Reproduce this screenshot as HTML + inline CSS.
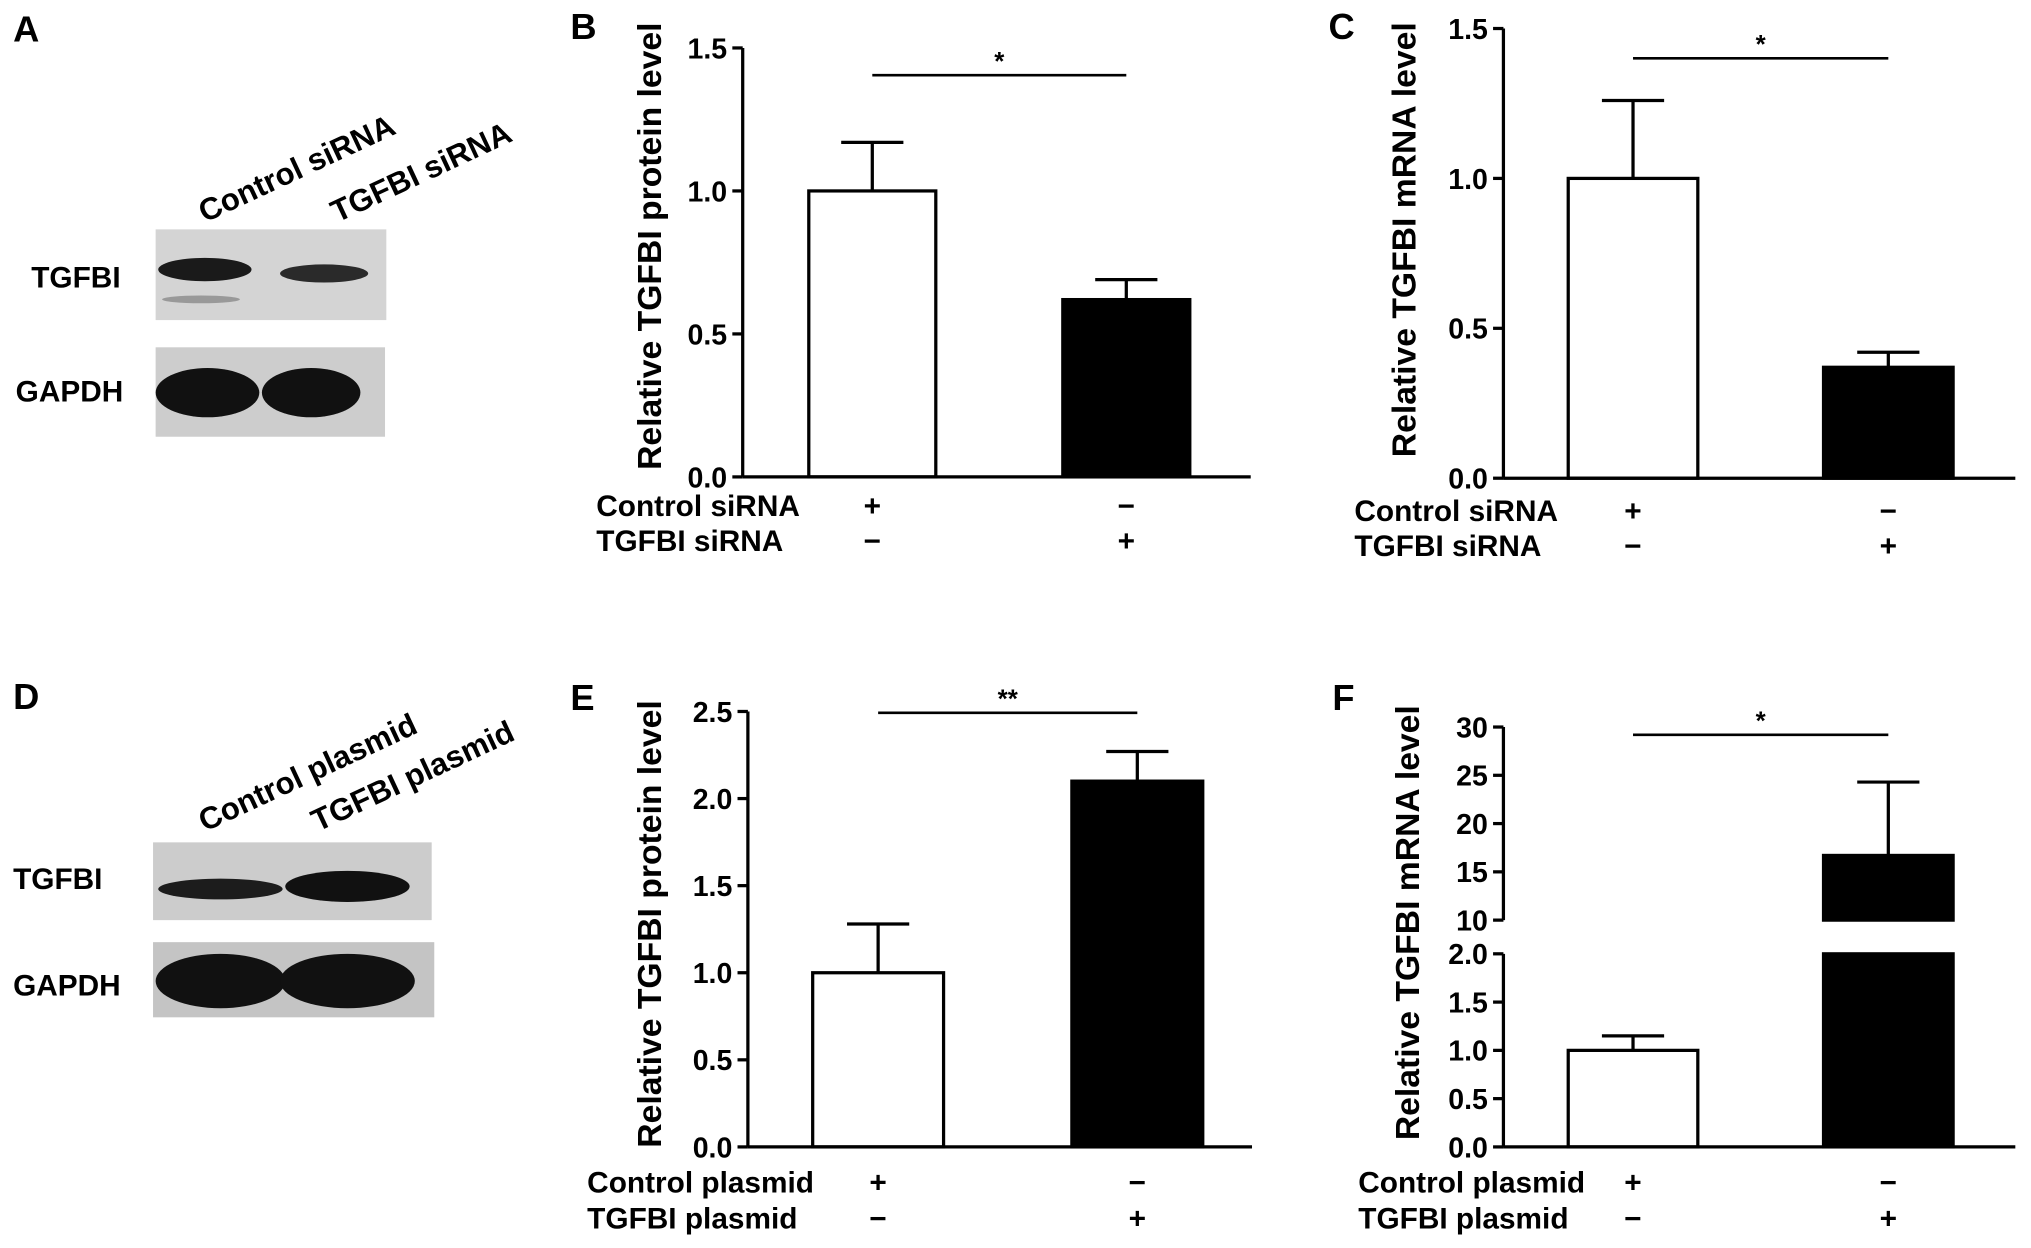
<!DOCTYPE html>
<html><head><meta charset="utf-8"><style>
html,body{margin:0;padding:0;background:#fff}
svg{display:block;font-family:"Liberation Sans",Arial,sans-serif;font-weight:bold}
</style></head><body>
<svg id="fig" width="2031" height="1248" viewBox="0 0 1567 963" xmlns="http://www.w3.org/2000/svg">
<rect width="1567" height="963" fill="#fff"/>
<g>
<text x="10" y="32" font-size="28">A</text>
<text transform="translate(158,172) rotate(-25)" font-size="24">Control siRNA</text>
<text transform="translate(260,172) rotate(-25)" font-size="24">TGFBI siRNA</text>
<text x="24" y="222" font-size="23">TGFBI</text>
<text x="12" y="310" font-size="23">GAPDH</text>
<rect x="120" y="177" width="178" height="70" fill="#d4d4d4"/>
<ellipse cx="158" cy="208" rx="36" ry="9" fill="#1a1a1a"/><ellipse cx="250" cy="211" rx="34" ry="7" fill="#2a2a2a"/>
<ellipse cx="155" cy="231" rx="30" ry="3" fill="#999"/>
<rect x="120" y="268" width="177" height="69" fill="#cdcdcd"/>
<ellipse cx="160" cy="303" rx="40" ry="19" fill="#111"/><ellipse cx="240" cy="303" rx="38" ry="19" fill="#111"/>
</g>
<g>
<text x="10" y="547" font-size="28">D</text>
<text transform="translate(158,642) rotate(-25)" font-size="24">Control plasmid</text>
<text transform="translate(245,642) rotate(-25)" font-size="24">TGFBI plasmid</text>
<text x="10" y="686" font-size="23">TGFBI</text>
<text x="10" y="768" font-size="23">GAPDH</text>
<rect x="118" y="650" width="215" height="60" fill="#cccccc"/>
<ellipse cx="170" cy="686" rx="48" ry="8" fill="#1c1c1c"/><ellipse cx="268" cy="684" rx="48" ry="12" fill="#111"/>
<rect x="118" y="727" width="217" height="58" fill="#c4c4c4"/>
<ellipse cx="170" cy="757" rx="50" ry="21" fill="#111"/><ellipse cx="268" cy="757" rx="52" ry="21" fill="#111"/>
</g>
</svg>
<script>
const panelBValues=[1.0,0.62];
const panelBErrors=[0.17,0.07];
const panelCValues=[1.0,0.37];
const panelCErrors=[0.26,0.05];
const panelEValues=[1.0,2.1];
const panelEErrors=[0.28,0.17];
const panelFValues=[1.0,16.7];
const panelFErrors=[0.15,7.6];
const ticksB=["0.0","0.5","1.0","1.5"];
const ticksE=["0.0","0.5","1.0","1.5","2.0","2.5"];
const ticksFLow=["0.0","0.5","1.0","1.5","2.0"];
const ticksFHigh=["10","15","20","25","30"];
const rowsSi=["Control siRNA","TGFBI siRNA"];
const rowsPl=["Control plasmid","TGFBI plasmid"];
const signsRow1=["+","−"];
const signsRow2=["−","+"];
const svg=document.getElementById('fig');
const NS='http://www.w3.org/2000/svg';
function mk(tag,attrs,parent,text){const e=document.createElementNS(NS,tag);for(const k in attrs)e.setAttribute(k,attrs[k]);if(text!==undefined)e.textContent=text;(parent||svg).appendChild(e);return e;}
function panel(o){
 const g=mk('g',{});
 
 
 const t=mk('text',{x:o.lx,y:o.ly,'font-size':28},g,o.id.toUpperCase());
 
 
 const segs=o.segs;
 segs.forEach((s,si)=>{
  const y=v=>s.y0+(v-s.v0)/(s.v1-s.v0)*(s.y1-s.y0);
  const ax=mk('line',{x1:o.ax,x2:o.ax,y1:s.y0,y2:s.y1,stroke:'#000','stroke-width':2.5},g);
  
  
  s.ticks.forEach((lab)=>{
   const v=parseFloat(lab);const yy=y(v);
   mk('line',{x1:o.ax-8,x2:o.ax,y1:yy,y2:yy,stroke:'#000','stroke-width':2.5},g);
   const tl=mk('text',{x:o.ax-12,y:yy+8,'font-size':22,'text-anchor':'end'},g,lab);
   
   
  });
  o.values.forEach((v,i)=>{
   const x=o.bx[i];
   const top=Math.max(s.v0,Math.min(v,s.v1));
   if(v<=s.v0&&si>0)return;
   const bot=s.v0;
   const b=mk('rect',{x:x,y:y(top),width:o.bw,height:y(bot)-y(top),fill:i?'#000':'#fff',stroke:'#000','stroke-width':2.5},g);
   
   
   if(v>=s.v0&&v<=s.v1){
    const e=v+o.errors[i];const cx=x+o.bw/2;
    const el=mk('path',{d:`M${cx},${y(v)}V${y(e)}M${cx-24},${y(e)}H${cx+24}`,stroke:'#000','stroke-width':2.5,fill:'none'},g);
    
    
   }
  });
 });
 const base=segs[segs.length-1].y0;
 const xa=mk('line',{x1:o.ax,x2:o.xend,y1:base,y2:base,stroke:'#000','stroke-width':2.5},g);
 
 
 const yl=mk('text',{transform:`translate(${o.tx},${o.ty}) rotate(-90)`,'font-size':26,'text-anchor':'middle'},g,o.title);
 
 
 const sl=mk('line',{x1:o.bx[0]+o.bw/2,x2:o.bx[1]+o.bw/2,y1:o.sy,y2:o.sy,stroke:'#000','stroke-width':2},g);
 
 
 const st=mk('text',{x:(o.bx[0]+o.bx[1]+o.bw)/2,y:o.sy-4,'font-size':20,'text-anchor':'middle'},g,o.star);
 
 
 o.rows.forEach((r,ri)=>{
  const yy=o.ry[ri];
  const rl=mk('text',{x:o.rx,y:yy,'font-size':23},g,r);
  
  
  const sg=ri?signsRow2:signsRow1;
  sg.forEach((s,i)=>{
   const sgn=mk('text',{x:o.bx[i]+o.bw/2,y:yy,'font-size':23,'text-anchor':'middle'},g,s);
   
   
  });
 });
}
panel({id:'b',lx:440,ly:30,ax:573,xend:965,bx:[624,820],bw:98,values:panelBValues,errors:panelBErrors,
 segs:[{v0:0,v1:1.5,y0:368,y1:37,ticks:ticksB}],tx:510,ty:190,title:'Relative TGFBI protein level',
 sy:58,star:'*',rows:rowsSi,rx:460,ry:[398,425]});
panel({id:'c',lx:1025,ly:30,ax:1160,xend:1555,bx:[1210,1407],bw:100,values:panelCValues,errors:panelCErrors,
 segs:[{v0:0,v1:1.5,y0:369,y1:22,ticks:ticksB}],tx:1092,ty:185,title:'Relative TGFBI mRNA level',
 sy:45,star:'*',rows:rowsSi,rx:1045,ry:[402,429]});
panel({id:'e',lx:440,ly:548,ax:577,xend:966,bx:[627,827],bw:101,values:panelEValues,errors:panelEErrors,
 segs:[{v0:0,v1:2.5,y0:885,y1:549,ticks:ticksE}],tx:510,ty:713,title:'Relative TGFBI protein level',
 sy:550,star:'**',rows:rowsPl,rx:453,ry:920,ry:[920,948]});
panel({id:'f',lx:1028,ly:548,ax:1160,xend:1555,bx:[1210,1407],bw:100,values:panelFValues,errors:panelFErrors,
 segs:[{v0:10,v1:30,y0:710,y1:561,ticks:ticksFHigh},{v0:0,v1:2,y0:885,y1:736,ticks:ticksFLow}],tx:1095,ty:712,title:'Relative TGFBI mRNA level',
 sy:567,star:'*',rows:rowsPl,rx:1048,ry:[920,948]});
</script>
</body></html>
